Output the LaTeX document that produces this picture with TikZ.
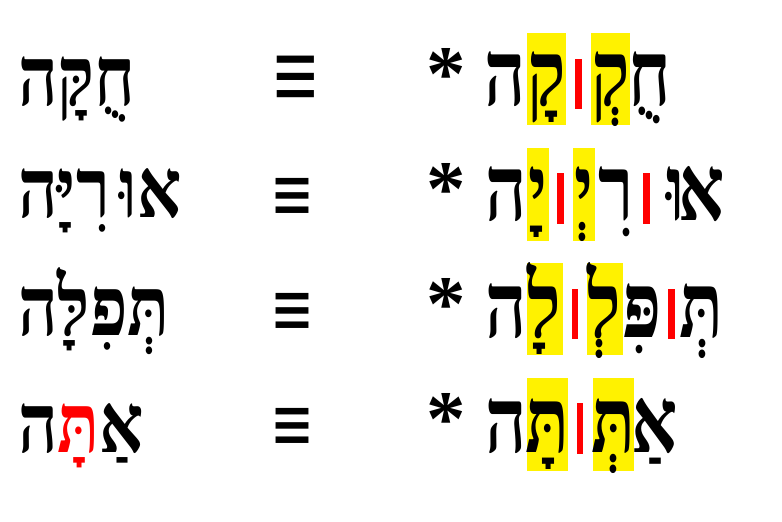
\documentclass[tikz,border=0pt]{standalone}
\usepackage{fontspec}
\usepackage{graphicx}
\TeXXeTstate=1
\newfontfamily\heb[Script=Hebrew]{Liberation Serif Bold}
\newfontfamily\symsans{Liberation Sans}
\newfontfamily\symdv{DejaVu Sans}
\newfontfamily\serifast{Liberation Serif Bold}
\newcommand\lftword[1]{\scalebox{1}[1.2]{#1}}
\newcommand\rgtl[1]{\scalebox{1}[1.27]{#1}}
\begin{document}
\begin{tikzpicture}[x=1pt,y=-1pt,
  lw/.style={anchor=base west,inner sep=0,font=\heb\fontsize{69}{69}\selectfont},
  rl/.style={anchor=base,inner sep=0,font=\heb\fontsize{72}{72}\selectfont},
  hl/.style={fill=yellow,draw=none},
  sepbar/.style={fill=red,draw=none},
  eqsign/.style={inner sep=0,anchor=center},
  astsign/.style={inner sep=0,anchor=center}]
\useasboundingbox (0,0) rectangle (782,522);
\fill[white] (0,0) rectangle (782,522);
% highlights
\fill[hl] (526.7,32.7) rectangle (566,125);
\fill[hl] (590.7,32.7) rectangle (630,125);
\fill[hl] (526.7,147.7) rectangle (549,240.7);
\fill[hl] (572.7,147.7) rectangle (595,240.7);
\fill[hl] (526.7,262.7) rectangle (562.7,355);
\fill[hl] (586.7,262.7) rectangle (622.7,355);
\fill[hl] (526.7,377.7) rectangle (568.3,470.7);
\fill[hl] (592.7,377.7) rectangle (634,470.7);
% red separators
\fill[sepbar] (575,59) rectangle (582,109);
\fill[sepbar] (557,173) rectangle (563.5,224);
\fill[sepbar] (643,173) rectangle (649.5,224);
\fill[sepbar] (571.5,289) rectangle (578,339);
\fill[sepbar] (668,289) rectangle (674.5,339);
\fill[sepbar] (577,403) rectangle (583.3,454);
% left words
\node[lw] (w1) at (18,105) {\lftword{\beginR חֻקָּה\endR}};
\node[lw] (w2) at (18,217) {\lftword{\beginR אוּ\kern10ptרִיָּה\endR}};
\node[lw] (w3) at (18,335) {\lftword{\beginR תְּפִלָּה\endR}};
\node[lw] (w4) at (18,452) {\lftword{ה\textcolor{red}{תָּ}אַ}};
% equivalence signs
\node[eqsign] (e1) at (295.5,82.7) {\resizebox{44.6pt}{53.4pt}{\symsans ≡}};
\node[eqsign] (e2) at (292,199.4) {\resizebox{44pt}{42.1pt}{\symdv ≡}};
\node[eqsign] (e3) at (292,314.4) {\resizebox{44pt}{42.1pt}{\symdv ≡}};
\node[eqsign] (e4) at (292,429.4) {\resizebox{44pt}{42.1pt}{\symdv ≡}};
% asterisks
\node[astsign] (a1) at (446,74) {\resizebox{!}{52pt}{\serifast *}};
\node[astsign] (a2) at (446,189) {\resizebox{!}{52pt}{\serifast *}};
\node[astsign] (a3) at (446,304) {\resizebox{!}{52pt}{\serifast *}};
\node[astsign] (a4) at (446,419) {\resizebox{!}{52pt}{\serifast *}};
% row 1 right
\node[rl] (r1a) at (505,105) {\rgtl{ה}};
\node[rl] (r1b) at (546.3,105) {\rgtl{קָ}};
\node[rl] (r1c) at (610.3,105) {\rgtl{קְ}};
\node[rl] (r1d) at (650,105) {\rgtl{חֻ}};
% row 2 right
\node[rl] (r2a) at (506,220) {\rgtl{ה}};
\node[rl] (r2b) at (538,220) {\rgtl{יָ}};
\node[rl] (r2c) at (584,220) {\rgtl{יְ}};
\node[rl] (r2d) at (616,220) {\rgtl{רִ}};
\node[rl] (r2e) at (676,220) {\rgtl{וּ}};
\node[rl] (r2f) at (701.5,220) {\rgtl{א}};
% row 3 right
\node[rl] (r3a) at (506,337) {\rgtl{ה}};
\node[rl] (r3b) at (544.7,337) {\rgtl{לָ}};
\node[rl] (r3c) at (604.7,337) {\rgtl{לְ}};
\node[rl] (r3d) at (641.7,337) {\rgtl{פִּ}};
\node[rl] (r3e) at (701.5,337) {\rgtl{תְּ}};
% row 4 right
\node[rl] (r4a) at (506,452) {\rgtl{ה}};
\node[rl] (r4b) at (547.5,452) {\rgtl{תָּ}};
\node[rl] (r4c) at (613.3,452) {\rgtl{תְּ}};
\node[rl] (r4d) at (655,452) {\rgtl{אַ}};
\end{tikzpicture}
\end{document}
